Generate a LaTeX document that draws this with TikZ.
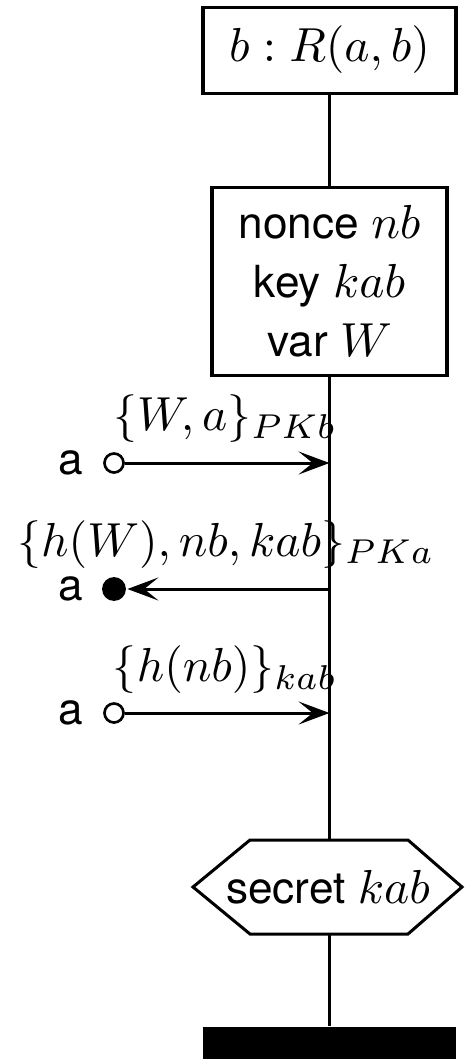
\RequirePackage{fix-cm}
\documentclass[tikz,border=0pt]{standalone}
\usepackage{fontspec}
\setsansfont{TeX Gyre Heros}
\DeclareMathSizes{10}{10.8}{7.8}{5.8}
\usetikzlibrary{arrows.meta}
\begin{document}
\begin{tikzpicture}[x=0.2262pt,y=-0.2262pt,
  line width=0.68pt,
  every node/.style={font=\sffamily\fontsize{10}{13.3}\selectfont},
  box/.style={draw,rectangle,inner sep=0pt,align=center},
  life/.style={line width=0.68pt},
  msg/.style={-{Stealth[length=7pt,width=5.2pt,inset=3.2pt]}},
  msgl/.style={anchor=south,inner sep=0pt},
  opendot/.style={circle,draw,fill=white,inner sep=0pt,minimum size=4.3pt,line width=0.6pt},
  fulldot/.style={circle,fill=black,inner sep=0pt,minimum size=5.4pt},
  agent/.style={inner sep=0pt}
]
\useasboundingbox (0,0) rectangle (465,1059);
% instance head
\node[box,minimum width=253*0.2262pt,minimum height=86*0.2262pt] (head) at (329.5,50) {$b:R(a,b)$};
% declarations
\node[box,minimum width=235*0.2262pt,minimum height=188*0.2262pt] (decl) at (329.5,281) {nonce $nb$\\key $kab$\\var $W$};
% condition (hexagon)
\coordinate (sectop) at (329.5,840);
\coordinate (secbot) at (329.5,934);
\draw[fill=white] (193,887) -- (250,840) -- (408,840) -- (462,887) -- (408,934) -- (250,934) -- cycle;
\node[inner sep=0pt] (sec) at (328,887) {secret $kab$};
% end bar
\node[fill=black,inner sep=0pt,minimum width=253*0.2262pt,minimum height=32*0.2262pt] (endbar) at (329.5,1043) {};
% lifeline points
\coordinate (l1) at (329.5,463);
\coordinate (l2) at (329.5,589);
\coordinate (l3) at (329.5,713);
\draw[life] (head.south) -- (decl.north);
\draw[life] (decl.south) -- (sectop);
\draw[life] (secbot) -- (endbar.north);
% messages
\node[agent] (a1) at (71,463) {a};
\node[agent] (a2) at (71,589) {a};
\node[agent] (a3) at (71,713) {a};
\node[opendot] (d1) at (114,463) {};
\node[fulldot] (d2) at (114,589) {};
\node[opendot] (d3) at (114,713) {};
\draw[msg] (d1) -- (l1);
\draw[msg] (l2) -- (d2);
\draw[msg] (d3) -- (l3);
\node[msgl] (t1) at (225,444) {$\{W,a\}_{PKb}$};
\node[msgl] (t2) at (226,570) {$\{h(W),nb,kab\}_{PKa}$};
\node[msgl] (t3) at (225,695) {$\{h(nb)\}_{kab}$};
\end{tikzpicture}
\end{document}
